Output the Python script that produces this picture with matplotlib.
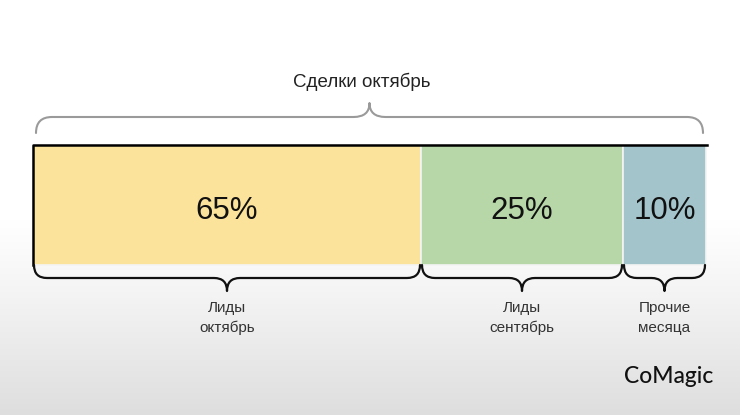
import numpy as np
import matplotlib.pyplot as plt
from matplotlib.path import Path
from matplotlib.patches import PathPatch

# segment values and labels
shares = [65, 25, 10]
seg_labels = ['Лиды\nоктябрь', 'Лиды\nсентябрь', 'Прочие\nмесяца']
seg_colors = ['#fce39b', '#b7d7a8', '#a3c4ca']
# drawn widths of the segments on the slide (not proportional to shares)
seg_widths = [388, 202, 83]
title = 'Сделки октябрь'
logo = 'CoMagic'

plt.rcParams['font.family'] = ['Liberation Sans', 'DejaVu Sans']

fig = plt.figure(figsize=(7.4, 4.15), dpi=100)
ax = fig.add_axes([0, 0, 1, 1])
ax.set_xlim(0, 740)
ax.set_ylim(415, 0)
ax.axis('off')

# background: white fading to light grey at the bottom
grad = np.ones((415, 1))
rows = np.arange(415)
grad[:, 0] = np.where(rows < 220, 1.0, 1.0 - 0.13 * ((rows - 220) / 195) ** 1.1)
ax.imshow(np.dstack([grad, grad, grad]), extent=[0, 740, 415, 0], aspect='auto',
          zorder=0)


def brace(x0, x1, y, depth, tip, r, sign, color, lw):
    '''Curly brace from x0 to x1 opening towards the bar at y.'''
    xm = (x0 + x1) / 2
    yl = y + sign * depth
    yt = yl + sign * tip
    verts = [(x0, y), (x0, yl), (x0 + r, yl),
             (xm - r, yl), (xm, yl), (xm, yt),
             (xm, yl), (xm + r, yl),
             (x1 - r, yl), (x1, yl), (x1, y)]
    codes = [Path.MOVETO, Path.CURVE3, Path.CURVE3,
             Path.LINETO, Path.CURVE3, Path.CURVE3,
             Path.CURVE3, Path.CURVE3,
             Path.LINETO, Path.CURVE3, Path.CURVE3]
    ax.add_patch(PathPatch(Path(verts, codes), fill=False, ec=color, lw=lw,
                           capstyle='round', joinstyle='round', zorder=3))


bar_left, bar_top, bar_h = 33, 145, 120
lefts = bar_left + np.concatenate([[0], np.cumsum(seg_widths)[:-1]])
ax.barh(bar_top + bar_h / 2, seg_widths, left=lefts, height=bar_h,
        color=seg_colors, edgecolor='#f4f4f4', linewidth=1.2, zorder=1)
bar_right = bar_left + sum(seg_widths)
ax.plot([bar_left, bar_left, bar_right + 1], [bar_top + bar_h, bar_top, bar_top],
        color='black', lw=1.8, zorder=2)

for left, w, s, lab in zip(lefts, seg_widths, shares, seg_labels):
    xc = left + w / 2
    ax.text(xc, bar_top + bar_h / 2 + 6, f'{s}%', ha='center', va='center',
            fontsize=22.5, color='#111111', zorder=4)
    brace(left + 1, left + w - 1, bar_top + bar_h, 13, 13, 13, 1, '#111111', 1.6)
    small = len(lab) > 14
    ax.text(xc, 318, lab, ha='center', va='center', fontsize=9.8 if small else 11,
            color='#333333', linespacing=1.55, zorder=4)

# top brace over the whole bar
brace(36, 703, 133, 16, 14, 16, -1, '#9a9a9a', 1.5)
ax.text(362, 82, title, ha='center', va='center', fontsize=13.5, color='#222222')

ax.text(669, 376, logo, ha='center', va='center', fontsize=16.5, color='#111111',
        family=['Lato', 'DejaVu Sans'], fontweight='medium')

fig.savefig('out.png', dpi=100)
